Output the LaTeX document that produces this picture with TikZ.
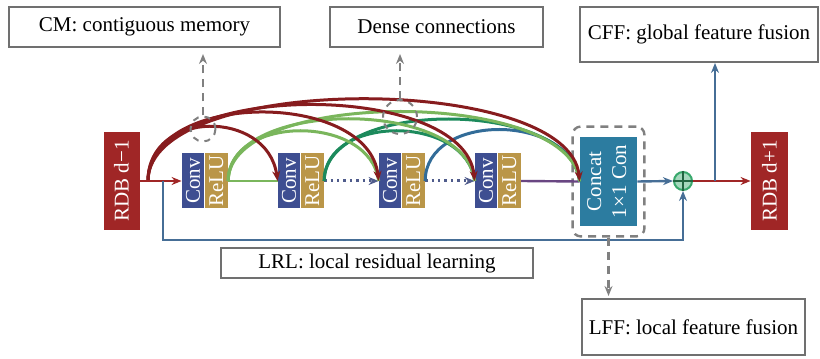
\documentclass[tikz,border=0pt]{standalone}
\usepackage{fontspec}
\setmainfont{Liberation Serif}
\usepackage{graphicx}
\usepackage{tikz}
\usetikzlibrary{positioning,fit,arrows.meta}

\definecolor{rdbred}{RGB}{160,38,38}
\definecolor{arcred}{RGB}{135,28,30}
\definecolor{convblue}{RGB}{62,78,145}
\definecolor{relugold}{RGB}{186,150,72}
\definecolor{concatteal}{RGB}{44,124,160}
\definecolor{plusgreen}{RGB}{56,168,108}
\definecolor{lgreen}{RGB}{122,182,92}
\definecolor{dgreen}{RGB}{28,138,92}
\definecolor{arcblue}{RGB}{50,108,152}
\definecolor{linkblue}{RGB}{70,110,150}
\definecolor{dotblue}{RGB}{80,92,140}
\definecolor{mainpurple}{RGB}{105,70,130}
\definecolor{boxgray}{RGB}{112,112,112}
\definecolor{dashgray}{RGB}{128,128,128}

\tikzset{
  blk/.style={text=white,inner sep=0pt,minimum height=27.5pt},
  convblk/.style={blk,fill=convblue,minimum width=11pt},
  relublk/.style={blk,fill=relugold,minimum width=11.5pt},
  rdbblk/.style={fill=rdbred,text=white,inner sep=0pt,minimum width=18pt,minimum height=49pt},
  lblbox/.style={draw=boxgray,line width=1pt,fill=white,inner sep=0pt},
  ring/.style={circle,draw=dashgray,dashed,line width=1pt,inner sep=0pt},
  dashline/.style={draw=dashgray,line width=1.2pt,dash pattern=on 4pt off 3pt,->,shorten >=3pt},
  link/.style={line width=1.2pt},
  arcline/.style={line width=1.5pt}
}

\begin{document}
\begin{tikzpicture}[x=0.5pt,y=0.5pt,font=\fontsize{10.5}{12.5}\selectfont,>={Stealth[length=5pt,width=4pt]}]
\useasboundingbox (0,0) rectangle (820,359);

\node[lblbox,minimum width=135.5pt,minimum height=20pt] (cm) at (144.5,332) {CM: contiguous memory};
\node[lblbox,minimum width=106.5pt,minimum height=20pt] (dense) at (436.5,332) {Dense connections};
\node[lblbox,minimum width=119pt,minimum height=27.5pt] (cff) at (699,324.5) {CFF: global feature fusion};
\node[lblbox,minimum width=156pt,minimum height=15pt] (lrl) at (377,96) {LRL: local residual learning};
\node[lblbox,minimum width=111.5pt,minimum height=28pt] (lff) at (693.5,32) {LFF: local feature fusion};

\node[rdbblk] (rdbin) at (121.5,178) {\rotatebox{90}{RDB d−1}};
\foreach \i/\x in {1/193,2/289,3/390,4/486}{
  \node[convblk] (conv\i) at (\x,178) {\rotatebox{90}{Conv}};
  \node[relublk,right=0pt of conv\i] (relu\i) {\rotatebox{90}{ReLU}};
}
\node[fill=concatteal,text=white,inner sep=0pt,minimum width=28.5pt,minimum height=44.5pt] (concat) at (608.5,177.5)
  {\rotatebox{90}{\begin{tabular}{@{}c@{}}Concat\\1×1 Con\end{tabular}}};
\node[draw=dashgray,line width=1.2pt,dash pattern=on 4pt off 3pt,rounded corners=4pt,fit=(concat),inner xsep=3.5pt,inner ysep=5pt] (lffbox) {};
\node[circle,draw=plusgreen,fill=plusgreen!45,line width=1pt,minimum size=9pt,inner sep=0pt] (plus) at (683,178) {};
\draw[plusgreen!60!black,line width=0.8pt] (plus.north) -- (plus.south) (plus.west) -- (plus.east);
\node[rdbblk,minimum width=18.5pt] (rdbout) at (769.5,178) {\rotatebox{90}{RDB d+1}};

\coordinate (redbr) at (148,178);
\coordinate (lrlbr) at (163,178);
\coordinate (cffbr) at (715,178);

\draw[link,lgreen] (relu1.east) -- (conv2.west);
\draw[link,dotblue,dotted,line width=1.5pt,->] (relu2.east) -- (conv3.west);
\draw[link,dotblue,dotted,line width=1.5pt,->] (relu3.east) -- (conv4.west);
\draw[link,mainpurple] (relu4.east) -- (concat.west);

\draw[arcline,arcblue] (relu3.east) .. controls +(0,69) and +(-8,69) .. (concat.west);
\foreach \dst/\h in {conv4/67,concat/83}
  \draw[arcline,dgreen] (relu2.east) .. controls +(0,\h) and +(-8,\h) .. (\dst.west);
\foreach \dst/\h in {conv3/67,conv4/83,concat/93}
  \draw[arcline,lgreen] (relu1.east) .. controls +(0,\h) and +(-8,\h) .. (\dst.west);
\foreach \dst/\h in {conv2/72,conv3/91,conv4/101,concat/109}
  \draw[arcline,arcred,->] (redbr) .. controls +(0,\h) and +(-10,\h) .. (\dst.west);

\draw[link,rdbred,->] (rdbin.east) -- (conv1.west);
\draw[link,linkblue,->] (concat.east) -- (plus.west);
\draw[link,rdbred,->] (plus.east) -- (rdbout.west);
\draw[link,linkblue,->] (cffbr) -- (cffbr |- cff.south);
\draw[link,linkblue,->] (lrlbr) -- ++(0,-59) -| (plus.south);

\node[ring,minimum size=12.5pt] (cmring) at (203,230) {};
\node[ring,minimum size=17pt] (densering) at (400,242) {};
\draw[dashline] (cmring.north) -- (cmring.north |- cm.south);
\draw[dashline] (densering.north) -- (densering.north |- dense.south);
\draw[dashline,shorten >=1pt] (lffbox.south) -- (lffbox.south |- lff.north);
\end{tikzpicture}
\end{document}
